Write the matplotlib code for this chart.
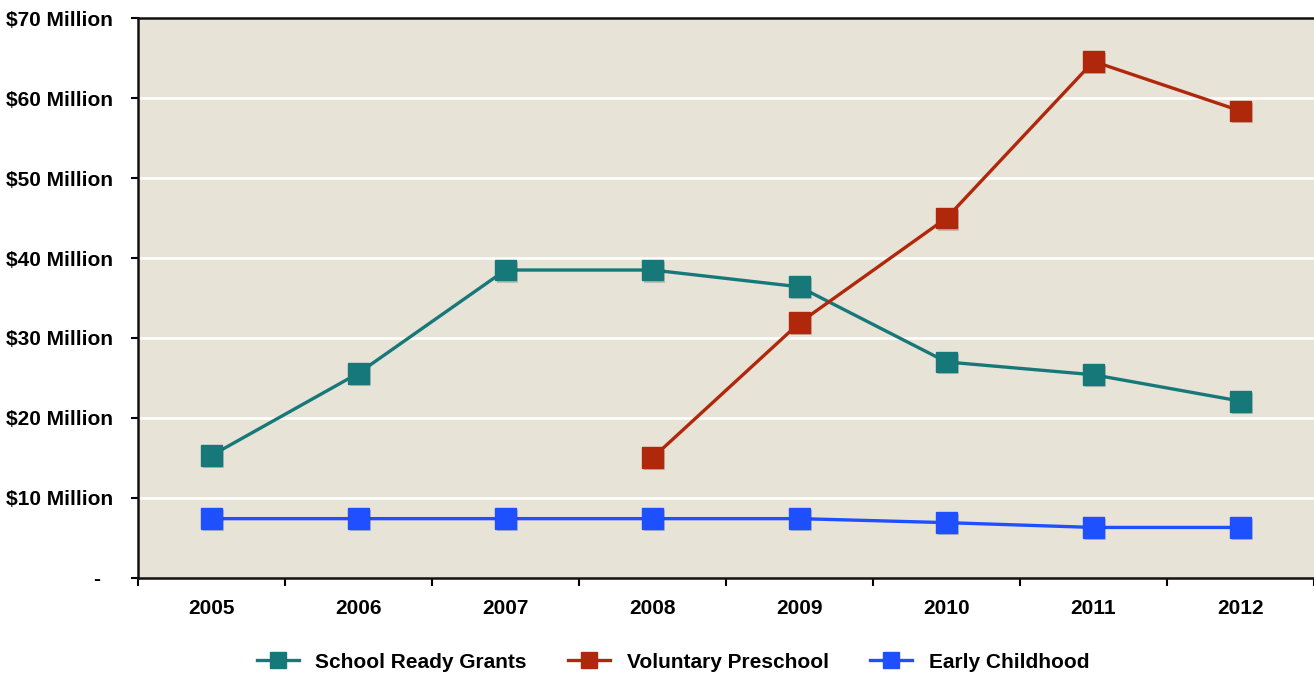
"""Annual funding by early learning program, 2005-2012."""

import matplotlib

matplotlib.use("Agg")
import matplotlib.pyplot as plt
import matplotlib.patheffects as pe

years = ["2005", "2006", "2007", "2008", "2009", "2010", "2011", "2012"]
school_ready = [15.3, 25.6, 38.5, 38.5, 36.4, 27.0, 25.4, 22.1]
voluntary_preschool = [None, None, None, 15.0, 31.9, 45.0, 64.6, 58.4]
early_childhood = [7.4, 7.4, 7.4, 7.4, 7.4, 6.9, 6.3, 6.3]
y_ticks = [0, 10, 20, 30, 40, 50, 60, 70]
y_labels = ["-  ", "$10 Million", "$20 Million", "$30 Million", "$40 Million",
            "$50 Million", "$60 Million", "$70 Million"]

plt.rcParams["font.family"] = ["Liberation Sans", "DejaVu Sans"]
plt.rcParams["font.weight"] = "bold"

series = [
    ("School Ready Grants", school_ready, "#17787a"),
    ("Voluntary Preschool", voluntary_preschool, "#b0280b"),
    ("Early Childhood", early_childhood, "#1f50ff"),
]

fig = plt.figure(figsize=(13.14, 6.75), dpi=100)
ax = fig.add_axes([0.105, 0.144, 0.895, 0.829])
ax.set_facecolor("#e8e3d7")

x = list(range(len(years)))
for name, values, color in series:
    pts = [(i, v) for i, v in zip(x, values) if v is not None]
    xs = [p[0] for p in pts]
    ys = [p[1] for p in pts]
    ax.plot(xs, ys, color=color, linewidth=2.4, zorder=3)
    ax.plot(
        xs,
        ys,
        color=color,
        linestyle="none",
        marker="s",
        markersize=15,
        zorder=4,
        path_effects=[pe.SimplePatchShadow(offset=(1.2, -1.5), alpha=0.2), pe.Normal()],
    )
    # legend proxy
    ax.plot([], [], color=color, linewidth=2.4, marker="s", markersize=11, label=name)

ax.set_xlim(-0.5, len(years) - 0.5)
ax.set_ylim(0, 70)
ax.set_yticks(y_ticks)
ax.set_yticklabels(y_labels, fontsize=15, fontweight="bold")
ax.set_xticks(x)
ax.set_xticklabels(years, fontsize=15, fontweight="bold")
ax.set_xticks([i - 0.5 for i in range(len(years) + 1)], minor=True)
ax.tick_params(axis="x", which="major", length=0, pad=15)
ax.tick_params(axis="x", which="minor", length=6, width=1.5, direction="out")
ax.tick_params(axis="y", length=5, width=1.5, pad=13)

for val in y_ticks[1:-1]:
    ax.axhline(val, color="white", linewidth=1.8, zorder=1)

for side in ["left", "bottom", "top"]:
    ax.spines[side].set_linewidth(1.8)
    ax.spines[side].set_color("#111111")
ax.spines["right"].set_visible(False)

ax.legend(
    loc="upper center",
    bbox_to_anchor=(0.455, -0.1),
    ncol=3,
    frameon=False,
    handlelength=2.0,
    columnspacing=2.0,
    handletextpad=0.8,
    prop={"weight": "bold", "size": 15},
)

fig.savefig("out.png", dpi=100)
